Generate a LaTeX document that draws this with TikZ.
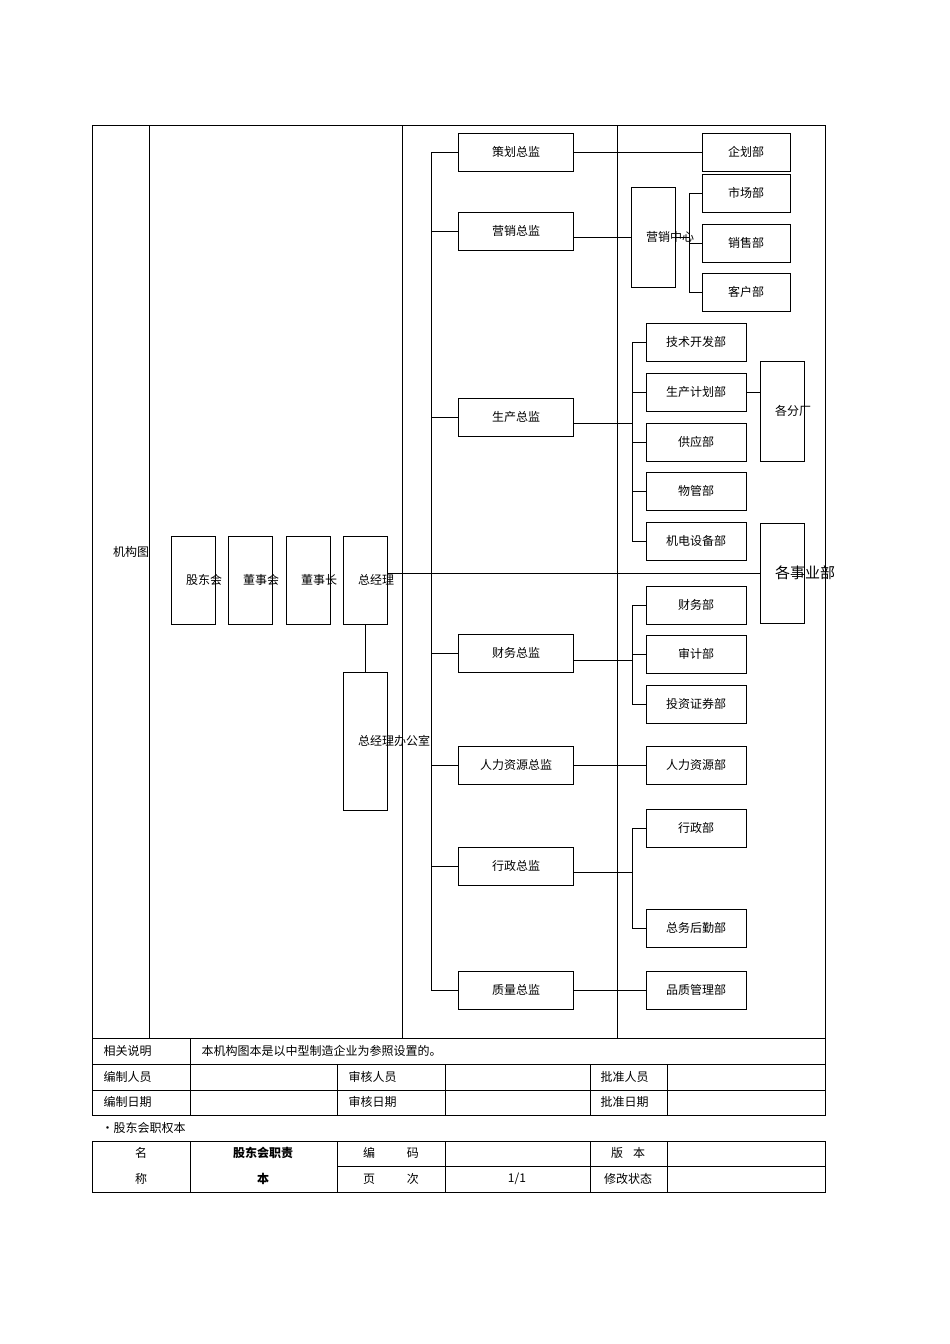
\documentclass[tikz,border=0pt]{standalone}
\usepackage{fontspec}
\setmainfont{Noto Sans CJK SC}
\usetikzlibrary{positioning}
\tikzset{
  box/.style={draw,line width=0.9pt,minimum width=115pt,minimum height=38pt,font=\fontsize{12}{14}\selectfont},
  dept/.style={box,minimum width=100pt},
  small/.style={box,minimum width=88pt},
  tall/.style={draw,line width=0.9pt,minimum width=44pt,text width=14pt,align=center,font=\fontsize{12}{15}\selectfont},
  cell/.style={font=\fontsize{12}{14}\selectfont,anchor=west},
  grid/.style={line width=0.7pt}
}
\begin{document}
\begin{tikzpicture}[x=1pt,y=-1pt]
  \useasboundingbox (0,0) rectangle (950,1344);

  % outer frame
  \draw[grid] (92,125) rectangle (825,1115);
  \foreach \xx in {149,402,617} \draw[grid] (\xx,125) -- (\xx,1038);
  \foreach \yy in {1038,1064,1090} \draw[grid] (92,\yy) -- (825,\yy);
  \draw[grid] (190,1038) -- (190,1115);
  \foreach \xx in {337,445,590,667} \draw[grid] (\xx,1064) -- (\xx,1115);
  \node[tall,draw=none] (label) at (120,552) {机构图};

  % left chain
  \node[tall,minimum height=88pt] (gdh) at (193,580) {股东会};
  \node[tall,minimum height=88pt] (dsh) at (250,580) {董事会};
  \node[tall,minimum height=88pt] (dsz) at (308,580) {董事长};
  \node[tall,minimum height=88pt] (zjl) at (365,580) {总经理};
  \node[tall,minimum height=138pt] (zjb) at (365,741) {总经理办公室};
  \draw (zjl) -- (zjb);

  % directors
  \node[box] (chzj) at (516,152) {策划总监};
  \node[box] (yxzj) at (516,231) {营销总监};
  \node[box] (sczj) at (516,417) {生产总监};
  \node[box] (cwzj) at (516,653) {财务总监};
  \node[box] (rlzj) at (516,765) {人力资源总监};
  \node[box] (xzzj) at (516,866) {行政总监};
  \node[box] (zlzj) at (516,990) {质量总监};
  \coordinate (trunktop) at (431,152);
  \coordinate (trunkbot) at (431,990);
  \draw (trunktop) -- (trunkbot);
  \foreach \d in {chzj,yxzj,sczj,cwzj,rlzj,xzzj,zlzj} \draw (trunktop |- \d) -- (\d.west);

  % business units
  \node[tall,minimum height=100pt] (gsyb) at (782,573) {\fontsize{15}{19}\selectfont 各事业部};
  \draw (zjl.east |- gsyb) -- (gsyb.west);

  % planning
  \node[small] (qhb) at (746,152) {企划部};
  \draw (chzj) -- (qhb);

  % marketing
  \node[tall,minimum height=100pt] (yxzx) at (653,237) {营销中心};
  \node[small] (scb) at (746,193) {市场部};
  \node[small] (xsb) at (746,243) {销售部};
  \node[small] (khb) at (746,292) {客户部};
  \draw (yxzj.east |- yxzx) -- (yxzx.west);
  \coordinate (mk) at (689,237);
  \draw (yxzx.east) -- (mk);
  \draw (mk |- scb) -- (mk |- khb);
  \foreach \d in {scb,xsb,khb} \draw (mk |- \d) -- (\d.west);

  % production
  \node[dept] (jskf) at (696,342) {技术开发部};
  \node[dept] (scjh) at (696,392) {生产计划部};
  \node[dept] (gyb) at (696,442) {供应部};
  \node[dept] (wgb) at (696,491) {物管部};
  \node[dept] (jdsb) at (696,541) {机电设备部};
  \node[tall,minimum height=100pt] (gfc) at (782,411) {各分厂};
  \coordinate (pr) at (632,423);
  \draw (sczj.east |- pr) -- (pr);
  \draw (pr |- jskf) -- (pr |- jdsb);
  \foreach \d in {jskf,scjh,gyb,wgb,jdsb} \draw (pr |- \d) -- (\d.west);
  \draw (scjh.east) -- (gfc.west |- scjh);

  % finance
  \node[dept] (cwb) at (696,605) {财务部};
  \node[dept] (sjb) at (696,654) {审计部};
  \node[dept] (tzzq) at (696,704) {投资证券部};
  \coordinate (fi) at (632,660);
  \draw (cwzj.east |- fi) -- (fi);
  \draw (fi |- cwb) -- (fi |- tzzq);
  \foreach \d in {cwb,sjb,tzzq} \draw (fi |- \d) -- (\d.west);

  % hr
  \node[dept] (rlzy) at (696,765) {人力资源部};
  \draw (rlzj) -- (rlzy);

  % admin
  \node[dept] (xzb) at (696,828) {行政部};
  \node[dept] (zwhq) at (696,928) {总务后勤部};
  \coordinate (ad) at (632,872);
  \draw (xzzj.east |- ad) -- (ad);
  \draw (ad |- xzb) -- (ad |- zwhq);
  \foreach \d in {xzb,zwhq} \draw (ad |- \d) -- (\d.west);

  % quality
  \node[dept] (pzgl) at (696,990) {品质管理部};
  \draw (zlzj) -- (pzgl);

  % footer rows
  \node[cell] (xgsm) at (100,1051) {相关说明};
  \node[cell] (sm) at (198,1051) {本机构图本是以中型制造企业为参照设置的。};
  \node[cell] (bzry) at (100,1077) {编制人员};
  \node[cell] (shry) at (345,1077) {审核人员};
  \node[cell] (pzry) at (597,1077) {批准人员};
  \node[cell] (bzrq) at (100,1102) {编制日期};
  \node[cell] (shrq) at (345,1102) {审核日期};
  \node[cell] (pzrq) at (597,1102) {批准日期};

  % second table
  \node[cell] (title) at (98,1128) {·股东会职权本};
  \draw[grid] (92,1141) rectangle (825,1192);
  \draw[grid] (337,1166) -- (825,1166);
  \foreach \xx in {190,337,445,590,667} \draw[grid] (\xx,1141) -- (\xx,1192);
  \node[font=\fontsize{12}{14}\selectfont] (ming) at (141,1153) {名};
  \node[font=\fontsize{12}{14}\selectfont] (cheng) at (141,1179) {称};
  \node[font=\fontsize{12}{14}\selectfont\bfseries] (zz1) at (263,1153) {股东会职责};
  \node[font=\fontsize{12}{14}\selectfont\bfseries] (zz2) at (263,1179) {本};
  \node[font=\fontsize{12}{14}\selectfont] (bm) at (391,1153) {编\hspace{32pt}码};
  \node[font=\fontsize{12}{14}\selectfont] (yc) at (391,1179) {页\hspace{32pt}次};
  \node[font=\fontsize{12}{14}\selectfont] (ye) at (517,1179) {1/1};
  \node[font=\fontsize{12}{14}\selectfont] (bb) at (628,1153) {版\hspace{10pt}本};
  \node[font=\fontsize{12}{14}\selectfont] (xg) at (628,1179) {修改状态};
\end{tikzpicture}
\end{document}
